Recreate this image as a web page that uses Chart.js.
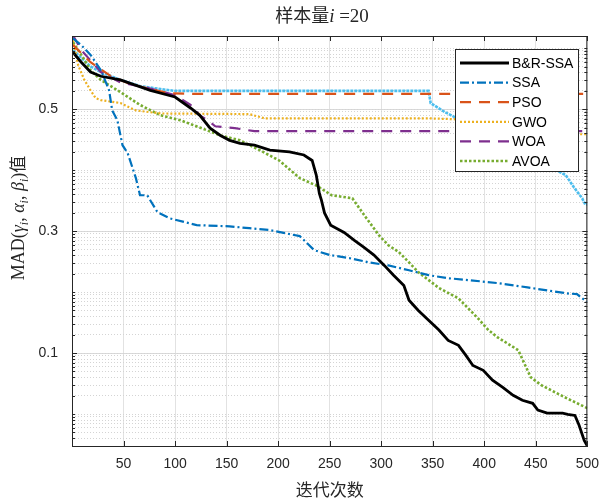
<!DOCTYPE html>
<html>
<head>
<meta charset="utf-8">
<script src="https://cdn.jsdelivr.net/npm/chart.js@4.4.0/dist/chart.umd.min.js"></script>
<style>
  body { margin: 0; background: #fff; }
  #wrap { width: 609px; height: 500px; }
</style>
</head>
<body>
<div id="wrap"><canvas id="madChart" width="609" height="500"></canvas></div>
<script>
// values (iteration, MAD value in axis units)
const brIter = [1,9,18,28,47,76,100,115,124,134,144,153,163,177,192,211,225,233,237,240,242,245,251,264,274,283,293,303,312,322,327,336,346,356,365,375,382,389,399,408,418,428,437,447,452,461,476,481,488,492,497,500];
const brVal = [0.593,0.577,0.561,0.554,0.548,0.531,0.520,0.502,0.490,0.469,0.457,0.449,0.444,0.441,0.433,0.430,0.425,0.416,0.392,0.362,0.351,0.330,0.310,0.298,0.285,0.274,0.261,0.244,0.228,0.211,0.187,0.170,0.154,0.138,0.121,0.113,0.097,0.080,0.072,0.056,0.044,0.031,0.023,0.018,0.007,0.002,0.002,0.000,-0.002,-0.018,-0.043,-0.052];

const ssaIter = [1,9,18,28,36,39,44,49,54,62,66,73,83,95,121,153,172,192,221,235,250,269,288,307,327,346,365,384,413,442,461,481,490,495,500];
const ssaVal = [0.616,0.605,0.589,0.564,0.531,0.498,0.482,0.441,0.428,0.387,0.359,0.359,0.331,0.321,0.310,0.308,0.305,0.302,0.292,0.269,0.261,0.256,0.249,0.244,0.236,0.228,0.223,0.220,0.215,0.208,0.203,0.198,0.197,0.190,0.184];

const psoIter = [1,18,38,57,76,95,124,500];
const psoVal = [0.605,0.577,0.554,0.541,0.533,0.526,0.525,0.525];

const gwoIter = [1,6,12,18,23,28,47,62,86,172,187,346,365,420,470,500];
const gwoVal = [0.613,0.572,0.548,0.531,0.518,0.515,0.510,0.498,0.493,0.492,0.485,0.485,0.484,0.480,0.459,0.459];

const woaIter = [1,9,28,47,76,100,115,124,134,139,158,177,500];
const woaVal = [0.621,0.597,0.561,0.544,0.534,0.523,0.507,0.490,0.479,0.472,0.469,0.464,0.464];

const avoaIter = [1,9,18,28,47,66,86,105,124,144,163,182,201,221,237,252,272,285,298,307,317,327,336,356,375,394,404,413,433,445,455,478,500];
const avoaVal = [0.610,0.589,0.564,0.548,0.528,0.507,0.490,0.482,0.470,0.457,0.449,0.433,0.416,0.387,0.375,0.359,0.354,0.323,0.293,0.277,0.266,0.249,0.233,0.207,0.190,0.157,0.138,0.126,0.105,0.061,0.048,0.028,0.010];

// extra light blue curve (no legend entry)
const lbIter = [1,9,18,28,47,66,86,100,346,348,362,368,413,452,479,487,495,498,500];
const lbVal = [0.597,0.584,0.570,0.561,0.548,0.538,0.533,0.530,0.530,0.510,0.495,0.490,0.449,0.416,0.392,0.372,0.354,0.344,0.344];

const seriesNames = ['B&R-SSA', 'SSA', 'PSO', 'GWO', 'WOA', 'AVOA'];
const yTicks = [0.1, 0.3, 0.5];
const xTickStep = 50;

function pairs(xs, ys) {
  return xs.map((x, i) => ({ x: x, y: ys[i] }));
}

function line(label, data, color, width, dash) {
  return {
    label: label,
    data: data,
    borderColor: color,
    backgroundColor: color,
    borderWidth: width,
    borderDash: dash,
    borderCapStyle: 'butt',
    pointRadius: 0,
    tension: 0,
    fill: false
  };
}

const datasets = [
  line(seriesNames[0], pairs(brIter, brVal), '#000000', 2.8, []),
  line(seriesNames[1], pairs(ssaIter, ssaVal), '#0072BD', 2.2, [9, 3, 2, 3]),
  line(seriesNames[2], pairs(psoIter, psoVal), '#D95319', 2.2, [11, 8]),
  line(seriesNames[3], pairs(gwoIter, gwoVal), '#EDB120', 2.2, [2, 2]),
  line(seriesNames[4], pairs(woaIter, woaVal), '#7E2F8E', 2.2, [11, 8]),
  line(seriesNames[5], pairs(avoaIter, avoaVal), '#77AC30', 2.6, [2.5, 2]),
  line('', pairs(lbIter, lbVal), '#4DBEEE', 2.6, [3, 1])
];

const axisColor = '#262626';

// frame, inward ticks, legend and titles in MATLAB style
const matlabLook = {
  id: 'matlabLook',
  afterDatasetsDraw: (chart) => {
    const ctx = chart.ctx;
    const a = chart.chartArea;
    const xs = chart.scales.x;
    const ys = chart.scales.y;
    const yg = chart.scales.yg;
    ctx.save();
    ctx.setLineDash([]);
    ctx.strokeStyle = axisColor;
    ctx.lineWidth = 1;
    ctx.strokeRect(a.left + 0.5, a.top + 0.5, a.right - a.left - 1, a.bottom - a.top);
    ctx.beginPath();
    xs.ticks.forEach(t => {
      const px = Math.round(xs.getPixelForValue(t.value)) + 0.5;
      ctx.moveTo(px, a.bottom); ctx.lineTo(px, a.bottom - 5);
      ctx.moveTo(px, a.top); ctx.lineTo(px, a.top + 5);
    });
    ys.ticks.forEach(t => {
      const py = Math.round(ys.getPixelForValue(t.value)) + 0.5;
      ctx.moveTo(a.left, py); ctx.lineTo(a.left + 5, py);
      ctx.moveTo(a.right, py); ctx.lineTo(a.right - 5, py);
    });
    yg.ticks.forEach(t => {
      const py = Math.round(yg.getPixelForValue(t.value)) + 0.5;
      ctx.moveTo(a.left, py); ctx.lineTo(a.left + 3, py);
      ctx.moveTo(a.right, py); ctx.lineTo(a.right - 3, py);
    });
    ctx.stroke();

    // legend
    const lx = 455, ly = 49, lw = 123, lh = 122;
    ctx.fillStyle = '#ffffff';
    ctx.fillRect(lx, ly, lw, lh);
    ctx.strokeStyle = axisColor;
    ctx.strokeRect(lx + 0.5, ly + 0.5, lw, lh);
    ctx.font = '14px "Liberation Sans", Arial, sans-serif';
    ctx.textBaseline = 'middle';
    ctx.textAlign = 'left';
    for (let i = 0; i < seriesNames.length; i++) {
      const ds = chart.data.datasets[i];
      const ry = ly + 14 + i * 19.6;
      ctx.beginPath();
      ctx.strokeStyle = ds.borderColor;
      ctx.lineWidth = ds.borderWidth;
      ctx.setLineDash(ds.borderDash);
      ctx.moveTo(460, ry);
      ctx.lineTo(509, ry);
      ctx.stroke();
      ctx.fillStyle = '#000000';
      ctx.fillText(seriesNames[i], 512, ry + 1);
    }
    ctx.restore();
  },
  afterDraw: (chart) => {
    const ctx = chart.ctx;
    ctx.save();
    ctx.fillStyle = axisColor;
    ctx.textBaseline = 'alphabetic';
    ctx.textAlign = 'left';

    // title: 样本量i=20
    const tParts = [
      { t: '样本量', f: '18px "Noto Sans CJK SC", sans-serif', dy: 0 },
      { t: 'i', f: 'italic 19px "Liberation Serif", serif', dy: 0 },
      { t: ' =20', f: '19px "Liberation Serif", serif', dy: 0 }
    ];
    drawParts(ctx, tParts, 322, 22);

    // y title, rotated
    const cn = '18px "Liberation Serif", serif';
    const it = 'italic 18px "Liberation Serif", serif';
    const sub = 'italic 12px "Liberation Serif", serif';
    const yParts = [
      { t: 'MAD(', f: cn, dy: 0 },
      { t: 'γ', f: it, dy: 0 }, { t: 'i', f: sub, dy: 4 }, { t: ', ', f: cn, dy: 0 },
      { t: 'α', f: it, dy: 0 }, { t: 'i', f: sub, dy: 4 }, { t: ', ', f: cn, dy: 0 },
      { t: 'β', f: it, dy: 0 }, { t: 'i', f: sub, dy: 4 }, { t: ')', f: cn, dy: 0 },
      { t: '值', f: '17px "Noto Sans CJK SC", sans-serif', dy: 0 }
    ];
    ctx.translate(24, 218);
    ctx.rotate(-Math.PI / 2);
    drawParts(ctx, yParts, 0, 0);
    ctx.restore();
  }
};

function drawParts(ctx, parts, cx, baseY) {
  let total = 0;
  parts.forEach(p => { ctx.font = p.f; total += ctx.measureText(p.t).width; });
  let x = cx - total / 2;
  parts.forEach(p => {
    ctx.font = p.f;
    ctx.fillText(p.t, x, baseY + p.dy);
    x += ctx.measureText(p.t).width;
  });
}

new Chart(document.getElementById('madChart'), {
  type: 'line',
  data: { datasets: datasets },
  options: {
    responsive: false,
    animation: false,
    layout: { padding: { top: 36, right: 18, left: 0, bottom: 0 } },
    plugins: {
      legend: { display: false },
      tooltip: { enabled: false },
      title: { display: false }
    },
    scales: {
      x: {
        type: 'linear',
        min: 0,
        max: 500,
        position: 'bottom',
        ticks: {
          stepSize: xTickStep,
          autoSkip: false,
          maxRotation: 0,
          padding: 10,
          color: axisColor,
          font: { family: 'Liberation Sans', size: 14 },
          callback: (v) => (v === 0 ? '' : v)
        },
        grid: { color: '#e2e2e2', drawTicks: false },
        border: { color: axisColor, width: 1 },
        title: {
          display: true,
          text: '迭代次数',
          color: axisColor,
          font: { family: 'Noto Sans CJK SC', size: 17 },
          padding: { top: 0, bottom: 0 }
        },
        afterFit: (s) => { s.height = 54; }
      },
      y: {
        type: 'linear',
        min: -0.052,
        max: 0.62,
        position: 'left',
        afterBuildTicks: (s) => { s.ticks = yTicks.map(v => ({ value: v })); },
        ticks: {
          padding: 14,
          color: axisColor,
          font: { family: 'Liberation Sans', size: 14 },
          callback: (v) => v.toFixed(1)
        },
        grid: { color: '#d9d9d9', drawTicks: false },
        border: { color: axisColor, width: 1 },
        afterFit: (s) => { s.width = 72; }
      },
      yg: {
        type: 'logarithmic',
        min: 0.302,
        max: 1.585e6,
        position: 'left',
        afterBuildTicks: (s) => {
          const t = [];
          for (let e = -1; e <= 6; e++) {
            for (let k = 1; k <= 9; k++) {
              const v = k * Math.pow(10, e);
              if (v > s.min && v < s.max) t.push({ value: v });
            }
          }
          s.ticks = t;
        },
        ticks: { display: false, autoSkip: false },
        grid: { color: '#d4d4d4', drawTicks: false },
        border: { display: false, dash: [1, 2] },
        afterFit: (s) => { s.width = 0; }
      }
    }
  },
  plugins: [matlabLook]
});
</script>
</body>
</html>
